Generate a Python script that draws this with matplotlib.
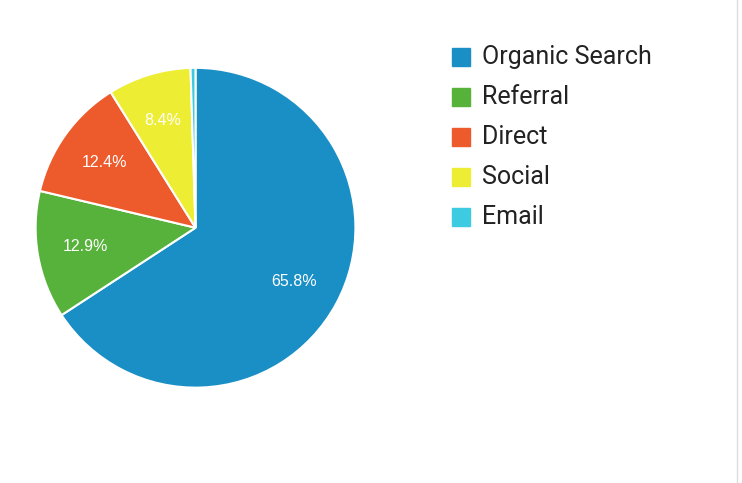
import matplotlib.pyplot as plt
from matplotlib.patches import Rectangle

channels = ['Organic Search', 'Referral', 'Direct', 'Social', 'Email']
shares = [65.8, 12.9, 12.4, 8.4, 0.5]
colors = ['#1a8fc6', '#57b23b', '#ed5a2b', '#eded33', '#3ccbe0']

plt.rcParams['font.family'] = ['Roboto', 'DejaVu Sans']

fig = plt.figure(figsize=(7.42, 4.83), dpi=100)
ax = fig.add_axes([0.048, 0.197, 0.431, 0.663])

wedges, texts, autotexts = ax.pie(
    shares, colors=colors, startangle=90, counterclock=False,
    autopct=lambda p: f'{p:.1f}%' if p >= 1 else '',
    pctdistance=0.7,
    wedgeprops={'edgecolor': 'white', 'linewidth': 1.5},
    textprops={'color': 'white', 'fontsize': 11.5, 'family': ['Liberation Sans', 'DejaVu Sans']},
)
ax.set_xlim(-1, 1)
ax.set_ylim(-1, 1)
ax.set_aspect('equal')

# legend drawn by hand to match spacing
for i, (name, c) in enumerate(zip(channels, colors)):
    y = 1 - (57 + 40 * i) / 483
    fig.patches.append(Rectangle((452 / 742, y - 9 / 483), 18 / 742, 18 / 483,
                                 transform=fig.transFigure, color=c))
    fig.text(482 / 742, y, name, fontsize=18, va='center', color='#222222')

fig.add_artist(plt.Line2D([737 / 742, 737 / 742], [0, 1], color='#dddddd', lw=1))

fig.savefig('out.png', dpi=100)
